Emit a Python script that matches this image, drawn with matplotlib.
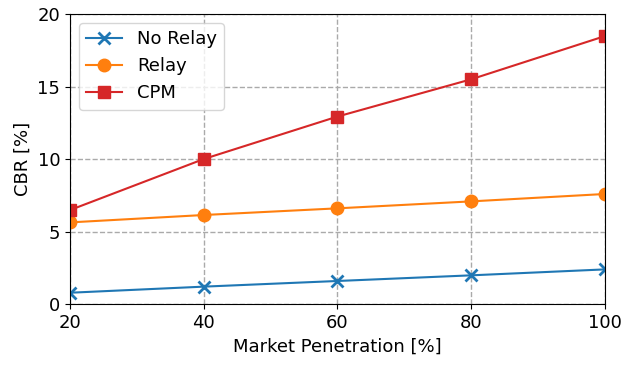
import matplotlib
matplotlib.use("Agg")
import matplotlib.pyplot as plt

# market penetration [%]
penetration = [20, 40, 60, 80, 100]

# CBR values [%]
no_relay = [0.78, 1.20, 1.59, 1.98, 2.39]
relay = [5.63, 6.14, 6.60, 7.08, 7.59]
cpm = [6.48, 10.00, 12.93, 15.50, 18.48]

fig = plt.figure(figsize=(6.22, 3.65), dpi=100)
ax = fig.add_axes([0.1125, 0.167, 0.8602, 0.7946])

ax.plot(penetration, no_relay, color="tab:blue", marker="x", markersize=9,
        markeredgewidth=2, label="No Relay")
ax.plot(penetration, relay, color="tab:orange", marker="o", markersize=9,
        label="Relay")
ax.plot(penetration, cpm, color="tab:red", marker="s", markersize=9,
        label="CPM")

ax.set_xlim(20, 100)
ax.set_ylim(0, 20)
ax.set_xticks(penetration)
ax.set_yticks([0, 5, 10, 15, 20])
ax.tick_params(labelsize=13)
ax.grid(True, linestyle="--", color="#aaaaaa", linewidth=1)
ax.set_xlabel("Market Penetration [%]", fontsize=13)
ax.set_ylabel("CBR [%]", fontsize=13)
ax.legend(loc="upper left", fontsize=13)

fig.savefig("out.png", dpi=100)
